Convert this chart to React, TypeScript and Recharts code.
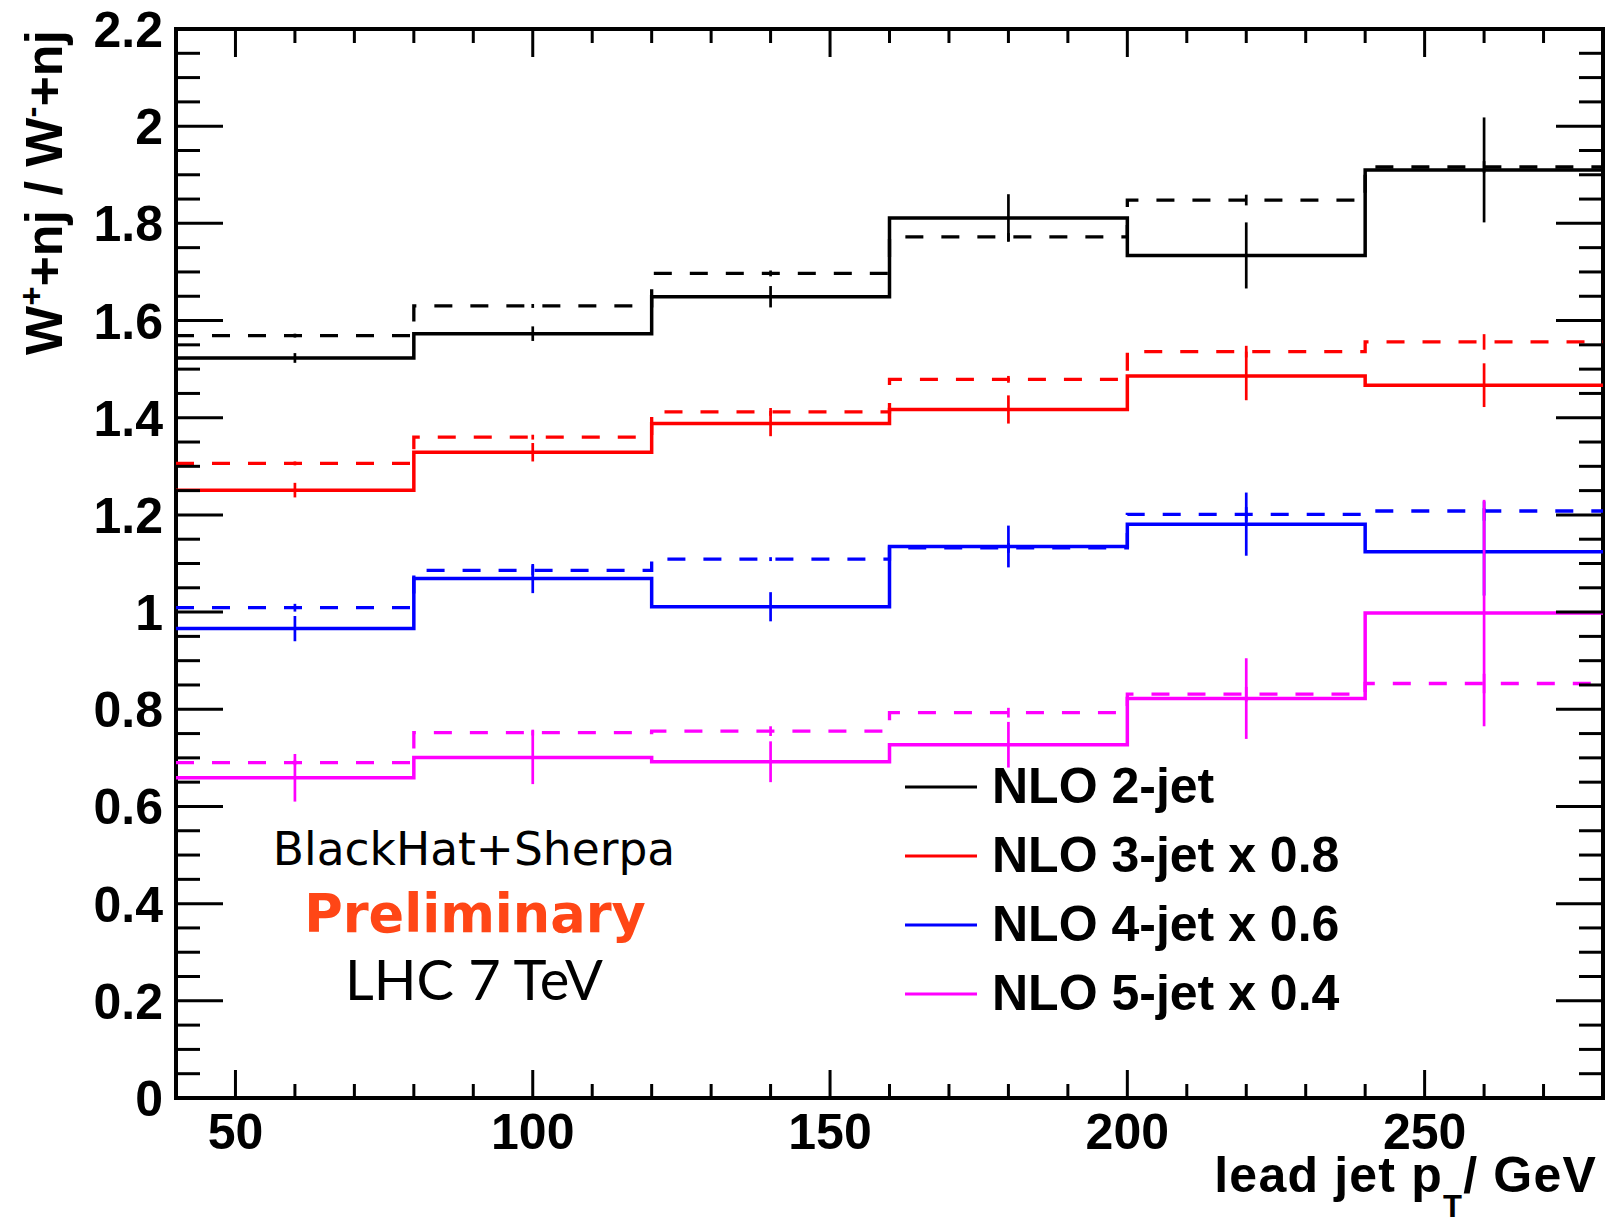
import {
  ComposedChart,
  Line,
  Scatter,
  ErrorBar,
  XAxis,
  YAxis,
  ReferenceArea,
  Legend,
} from "recharts";

// bin edges and centres of the lead jet pT histogram (GeV)
const binEdges = [40, 80, 120, 160, 200, 240, 280];
const binCenters = [60, 100, 140, 180, 220, 260];

// W+ / W- ratios, solid = one setup, dashed = the other
const nlo2Solid = [1.523, 1.573, 1.649, 1.811, 1.734, 1.91];
const nlo2SolidErr = [0.01, 0.015, 0.022, 0.049, 0.068, 0.108];
const nlo2Dashed = [1.569, 1.63, 1.697, 1.772, 1.848, 1.916];
const nlo2DashedErr = [0.004, 0.004, 0.006, 0.008, 0.011, 0.012];

const nlo3Solid = [1.251, 1.329, 1.388, 1.417, 1.486, 1.467];
const nlo3SolidErr = [0.015, 0.019, 0.026, 0.029, 0.05, 0.045];
const nlo3Dashed = [1.306, 1.36, 1.412, 1.479, 1.536, 1.556];
const nlo3DashedErr = [0.004, 0.005, 0.008, 0.007, 0.012, 0.016];

const nlo4Solid = [0.966, 1.069, 1.011, 1.135, 1.181, 1.124];
const nlo4SolidErr = [0.026, 0.03, 0.03, 0.043, 0.065, 0.09];
const nlo4Dashed = [1.009, 1.086, 1.109, 1.132, 1.201, 1.208];
const nlo4DashedErr = [0.008, 0.01, 0.004, 0.01, 0.015, 0.02];

const nlo5Solid = [0.659, 0.701, 0.692, 0.727, 0.822, 0.998];
const nlo5SolidErr = [0.049, 0.055, 0.042, 0.047, 0.083, 0.233];
const nlo5Dashed = [0.69, 0.752, 0.755, 0.793, 0.831, 0.853];
const nlo5DashedErr = [0.005, 0.006, 0.01, 0.01, 0.015, 0.02];

const legendLabels = ["NLO 2-jet", "NLO 3-jet x 0.8", "NLO 4-jet x 0.6", "NLO 5-jet x 0.4"];
const seriesColors = ["#000000", "#ff0000", "#0000ff", "#ff00ff"];

const xTicks = [40, 50, 60, 70, 80, 90, 100, 110, 120, 130, 140, 150, 160, 170, 180, 190, 200, 210, 220, 230, 240, 250, 260, 270, 280];
const xMajor = [50, 100, 150, 200, 250];
const yTicks = [
  0, 0.05, 0.1, 0.15, 0.2, 0.25, 0.3, 0.35, 0.4, 0.45, 0.5, 0.55, 0.6, 0.65, 0.7, 0.75, 0.8, 0.85, 0.9, 0.95,
  1, 1.05, 1.1, 1.15, 1.2, 1.25, 1.3, 1.35, 1.4, 1.45, 1.5, 1.55, 1.6, 1.65, 1.7, 1.75, 1.8, 1.85, 1.9, 1.95,
  2, 2.05, 2.1, 2.15, 2.2,
];
const yMajor = ["0", "0.2", "0.4", "0.6", "0.8", "1", "1.2", "1.4", "1.6", "1.8", "2", "2.2"];

const W = 1605;
const H = 1218;
const PLOT_LEFT = 176;
const PLOT_RIGHT = 1603;
const PLOT_TOP = 29;
const PLOT_BOTTOM = 1098;
const FONT = "'Liberation Sans', Arial, sans-serif";

const stepData = (vals: number[]) =>
  binEdges.map((x, i) => ({ x, y: vals[Math.min(i, vals.length - 1)] }));
const pointData = (vals: number[], errs: number[]) =>
  binCenters.map((x, i) => ({ x, y: vals[i], err: errs[i] }));

const series = [
  { name: legendLabels[0], color: seriesColors[0], solid: nlo2Solid, solidErr: nlo2SolidErr, dashed: nlo2Dashed, dashedErr: nlo2DashedErr },
  { name: legendLabels[1], color: seriesColors[1], solid: nlo3Solid, solidErr: nlo3SolidErr, dashed: nlo3Dashed, dashedErr: nlo3DashedErr },
  { name: legendLabels[2], color: seriesColors[2], solid: nlo4Solid, solidErr: nlo4SolidErr, dashed: nlo4Dashed, dashedErr: nlo4DashedErr },
  { name: legendLabels[3], color: seriesColors[3], solid: nlo5Solid, solidErr: nlo5SolidErr, dashed: nlo5Dashed, dashedErr: nlo5DashedErr },
];

function YTick(props: any) {
  const { y, payload } = props;
  const label = String(Math.round(payload.value * 10) / 10);
  const major = yMajor.includes(label) && Math.abs(payload.value * 5 - Math.round(payload.value * 5)) < 1e-6;
  const len = major ? 47 : 24;
  return (
    <g>
      <line x1={PLOT_LEFT} x2={PLOT_LEFT + len} y1={y} y2={y} stroke="#000" strokeWidth={3} />
      <line x1={PLOT_RIGHT - len} x2={PLOT_RIGHT} y1={y} y2={y} stroke="#000" strokeWidth={3} />
      {major && (
        <text x={163} y={y + 18} textAnchor="end" fontFamily={FONT} fontWeight="bold" fontSize={50} fill="#000">
          {label}
        </text>
      )}
    </g>
  );
}

function XTick(props: any) {
  const { x, payload } = props;
  const major = xMajor.includes(payload.value);
  const len = major ? 28 : 14;
  return (
    <g>
      <line x1={x} x2={x} y1={PLOT_BOTTOM} y2={PLOT_BOTTOM - len} stroke="#000" strokeWidth={3} />
      <line x1={x} x2={x} y1={PLOT_TOP} y2={PLOT_TOP + len} stroke="#000" strokeWidth={3} />
      {major && (
        <text x={x} y={1149} textAnchor="middle" fontFamily={FONT} fontWeight="bold" fontSize={50} fill="#000">
          {payload.value}
        </text>
      )}
    </g>
  );
}

function LegendBox({ payload }: any) {
  const entries = (payload || []).filter((e: any) => legendLabels.includes(e.value));
  return (
    <div style={{ display: "flex", flexDirection: "column" }}>
      {entries.map((entry: any) => (
        <div key={entry.value} style={{ display: "flex", alignItems: "center", height: 69 }}>
          <svg width={72} height={6}>
            <line x1={0} x2={72} y1={3} y2={3} stroke={entry.color} strokeWidth={3} />
          </svg>
          <span
            style={{
              marginLeft: 15,
              fontFamily: FONT,
              fontWeight: "bold",
              fontSize: 50,
              lineHeight: "69px",
              color: "#000",
              whiteSpace: "nowrap",
            }}
          >
            {entry.value}
          </span>
        </div>
      ))}
    </div>
  );
}

export default function App() {
  return (
    <div style={{ position: "absolute", left: 0, top: 0, width: W, height: H, background: "#fff" }}>
      <ComposedChart
        width={W}
        height={H}
        margin={{ top: PLOT_TOP, right: W - PLOT_RIGHT, bottom: 0, left: 0 }}
      >
        <XAxis
          dataKey="x"
          type="number"
          domain={[40, 280]}
          ticks={xTicks}
          interval={0}
          tick={XTick}
          tickLine={false}
          axisLine={false}
          height={H - PLOT_BOTTOM}
          allowDataOverflow
        />
        <YAxis
          type="number"
          domain={[0, 2.2]}
          ticks={yTicks}
          interval={0}
          tick={YTick}
          tickLine={false}
          axisLine={false}
          width={PLOT_LEFT}
          allowDataOverflow
        />
        <ReferenceArea x1={40} x2={280} y1={0} y2={2.2} fill="none" fillOpacity={0} stroke="#000" strokeWidth={4} />
        {series.flatMap((s) => [
          <Line
            key={s.name + "-dashed"}
            data={stepData(s.dashed)}
            dataKey="y"
            type="stepAfter"
            stroke={s.color}
            strokeWidth={3.3}
            strokeDasharray="18 18"
            dot={false}
            activeDot={false}
            legendType="none"
            isAnimationActive={false}
          />,
          <Line
            key={s.name + "-solid"}
            name={s.name}
            data={stepData(s.solid)}
            dataKey="y"
            type="stepAfter"
            stroke={s.color}
            strokeWidth={3.5}
            dot={false}
            activeDot={false}
            legendType="plainline"
            isAnimationActive={false}
          />,
          <Scatter
            key={s.name + "-dashed-err"}
            data={pointData(s.dashed, s.dashedErr)}
            dataKey="y"
            shape={() => <g />}
            legendType="none"
            isAnimationActive={false}
          >
            <ErrorBar dataKey="err" direction="y" width={0} stroke={s.color} strokeWidth={2.7} isAnimationActive={false} />
          </Scatter>,
          <Scatter
            key={s.name + "-solid-err"}
            data={pointData(s.solid, s.solidErr)}
            dataKey="y"
            shape={() => <g />}
            legendType="none"
            isAnimationActive={false}
          >
            <ErrorBar dataKey="err" direction="y" width={0} stroke={s.color} strokeWidth={2.7} isAnimationActive={false} />
          </Scatter>,
        ])}
        <Legend
          layout="vertical"
          align="center"
          verticalAlign="middle"
          content={LegendBox}
          wrapperStyle={{ left: 905, top: 752, width: "auto", height: "auto" }}
        />
      </ComposedChart>
      <svg
        width={W}
        height={H}
        style={{ position: "absolute", left: 0, top: 0, pointerEvents: "none" }}
      >
        <text
          transform="translate(62, 30) rotate(-90)"
          textAnchor="end"
          fontFamily={FONT}
          fontWeight="bold"
          fontSize={52}
          fill="#000"
        >
          W<tspan dy={-19} fontSize={33}>+</tspan>
          <tspan dy={19}>+nj / W</tspan>
          <tspan dy={-19} fontSize={33}>-</tspan>
          <tspan dy={19}>+nj</tspan>
        </text>
        <text
          x={1597}
          y={1192}
          textAnchor="end"
          fontFamily={FONT}
          fontWeight="bold"
          fontSize={50}
          letterSpacing={1.2}
          fill="#000"
        >
          lead jet p<tspan dy={25} fontSize={31}>T</tspan>
          <tspan dy={-25}>/ GeV</tspan>
        </text>
        <text x={474} y={865} textAnchor="middle" fontFamily="'DejaVu Sans', sans-serif" fontSize={45.5} fill="#000">
          BlackHat+Sherpa
        </text>
        <text x={475} y={932} textAnchor="middle" fontFamily="'DejaVu Sans', sans-serif" fontWeight="bold" fontSize={52.5} fill="#ff4616">
          Preliminary
        </text>
        <text x={474} y={1000} textAnchor="middle" fontFamily="Lato, sans-serif" fontSize={56} fill="#000">
          LHC 7 TeV
        </text>
      </svg>
    </div>
  );
}
